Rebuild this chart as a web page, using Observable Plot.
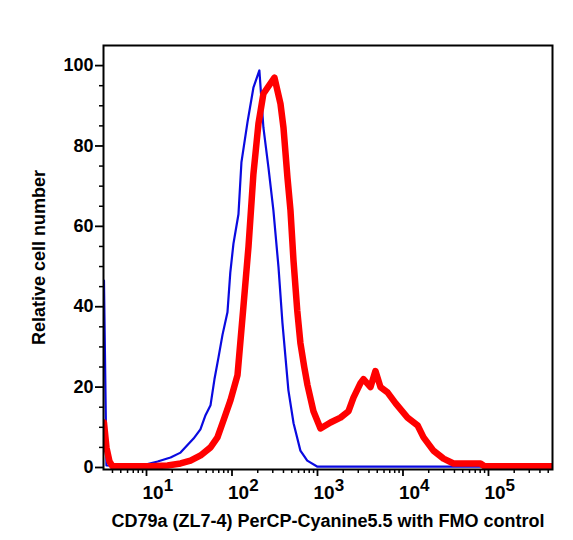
<!DOCTYPE html>
<html>
<head>
<meta charset="utf-8">
<script src="https://cdn.jsdelivr.net/npm/d3@7"></script>
<script src="https://cdn.jsdelivr.net/npm/@observablehq/plot@0.6"></script>
<style>
  html, body { margin: 0; padding: 0; background: #fff; }
  #chart svg { display: block; }
</style>
</head>
<body>
<div id="chart"></div>
<script>
// FMO control (blue): fluorescence intensity and relative cell number
const fmoX = [3.18, 3.40, 7.85, 13.5, 19.1, 25.0, 35.5, 42.7, 49.0, 56.1, 62.4, 69.5, 77.4, 88.5,
  95.5, 104, 119, 129, 152, 178, 209, 233, 267, 305, 350, 389, 457, 525, 631, 759, 1000, 562000];
const fmoY = [46.5, 0.5, 0.2, 1.5, 2.5, 3.7, 7.2, 9.5, 13, 15.5, 22, 27.4, 33, 38.6,
  48.5, 55.7, 63, 76, 86, 94.5, 98.8, 84.6, 74.6, 64, 49.8, 36, 19.2, 11, 4.2, 1.7, 0.2, 0.2];

// CD79a stained (red)
const cd79X = [3.18, 3.40, 3.69, 4.0, 11.1, 17.6, 25.0, 32.7, 42.9, 56.1, 67.6, 79.4, 95.9, 116,
  136, 156, 178, 204, 233, 260, 314, 369, 400, 446, 483, 524, 580, 631, 700, 764, 897, 1084, 1419, 1858,
  2307, 2636, 3184, 3451, 4169, 4764, 5458, 6592, 8166, 11300, 14800, 17400, 22700, 29800,
  39000, 56800, 80500, 89700, 561000];
const cd79Y = [11.2, 5, 1.5, 0.3, 0.3, 0.5, 1, 1.7, 3, 5, 7.5, 11.7, 16.7, 23,
  40, 55, 73, 85.6, 93, 94.5, 97, 90.5, 84.6, 72, 64, 51.5, 39, 31, 25, 20.5, 14, 9.7, 11.2, 12.4,
  14, 17.4, 21, 22, 20, 24, 20, 18.7, 16, 12.4, 10.5, 7.5, 4.2, 2.2,
  1, 1, 1, 0.3, 0.3];

const xMajor = [10, 100, 1000, 10000, 100000];
const xMinor = [4, 5, 6, 7, 8, 9, 20, 30, 40, 50, 60, 70, 80, 90, 200, 300, 400, 500, 600, 700, 800, 900,
  2000, 3000, 4000, 5000, 6000, 7000, 8000, 9000, 20000, 30000, 40000, 50000, 60000, 70000, 80000, 90000,
  200000, 300000, 400000, 500000];
const yMajor = [0, 20, 40, 60, 80, 100];
const yMinor = [5, 10, 15, 25, 30, 35, 45, 50, 55, 65, 70, 75, 85, 90, 95];

const xTitle = "CD79a (ZL7-4) PerCP-Cyanine5.5 with FMO control";
const yTitle = "Relative cell number";

const fmo = fmoX.map((x, i) => ({x, y: fmoY[i]}));
const cd79 = cd79X.map((x, i) => ({x, y: cd79Y[i]}));

const font = "'Liberation Sans', Arial, Helvetica, sans-serif";

const chart = Plot.plot({
  width: 573,
  height: 540,
  marginLeft: 103,
  marginRight: 21,
  marginTop: 45,
  marginBottom: 71,
  style: {fontFamily: font, fontWeight: "bold", fontSize: "18px", color: "black", background: "white"},
  x: {type: "log", domain: [3.14, 561000]},
  y: {domain: [-0.5, 105]},
  marks: [
    Plot.line(fmo, {x: "x", y: "y", stroke: "#0a0ae0", strokeWidth: 2.2, clip: true}),
    Plot.line(cd79, {x: "x", y: "y", stroke: "#ff0000", strokeWidth: 6.5, strokeLinejoin: "round", clip: true}),
    Plot.frame({stroke: "black", strokeWidth: 2}),
    Plot.axisY({ticks: yMajor, tickSize: 8, tickPadding: 2, strokeWidth: 1.8, fontSize: 18,
      label: yTitle, labelAnchor: "center", labelOffset: 71, labelArrow: "none"}),
    Plot.axisY({ticks: yMinor, tickSize: 4, strokeWidth: 1.5, tickFormat: () => "", label: null}),
    Plot.axisX({ticks: xMajor, tickSize: 7, tickPadding: 9, strokeWidth: 1.8, fontSize: 19,
      tickFormat: d => "10^" + Math.round(Math.log10(d)),
      label: xTitle, labelAnchor: "center", labelOffset: 57, labelArrow: "none"}),
    Plot.axisX({ticks: xMinor, tickSize: 4, strokeWidth: 1.5, tickFormat: () => "", label: null})
  ]
});

// Superscript exponents on x tick labels
chart.querySelectorAll('g[aria-label="x-axis tick label"] text').forEach(t => {
  const s = t.textContent;
  if (!s.includes("^")) return;
  const [base, exp] = s.split("^");
  t.textContent = "";
  t.setAttribute("text-anchor", "start");
  t.setAttribute("dx", "-4");
  const ns = "http://www.w3.org/2000/svg";
  const b = document.createElementNS(ns, "tspan");
  b.textContent = base;
  const e = document.createElementNS(ns, "tspan");
  e.textContent = exp;
  e.setAttribute("dy", "-0.5em");
  e.setAttribute("font-size", "17px");
  t.appendChild(b);
  t.appendChild(e);
});
chart.querySelectorAll('g[aria-label="x-axis label"] text, g[aria-label="y-axis label"] text').forEach(t => {
  t.setAttribute("font-size", "18px");
});

document.getElementById("chart").appendChild(chart);
</script>
</body>
</html>
